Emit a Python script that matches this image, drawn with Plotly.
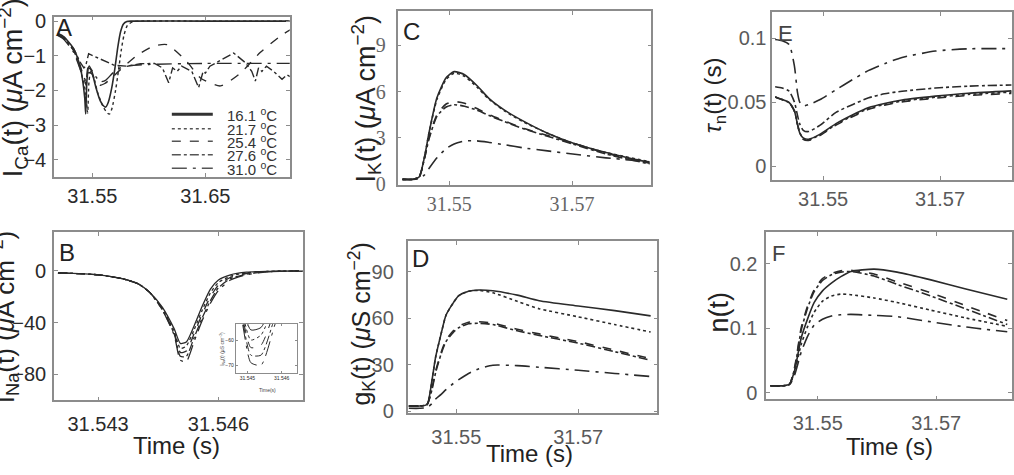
import plotly.graph_objects as go

W, H = 1014, 475

# ---------------- data ----------------
temps = ["16.1", "21.7", "25.4", "27.6", "31.0"]

# Panel A : I_Ca(t)
a_t_161 = [31.5195, 31.5246, 31.5335, 31.5394, 31.5432, 31.5441, 31.5452, 31.5470, 31.5495, 31.5530, 31.5570, 31.5600, 31.5618, 31.5640, 31.5670, 31.5700, 31.5725, 31.5750, 31.5775, 31.5805, 31.5850, 31.6500, 31.7250]
a_v_161 = [-0.35, -0.45, -0.8, -1.35, -2.2, -2.68, -1.7, -1.3, -1.45, -1.9, -2.3, -2.45, -2.48, -2.35, -1.95, -1.35, -0.75, -0.3, -0.08, -0.01, 0, 0, 0]
a_t_217 = [31.5195, 31.5246, 31.5335, 31.5394, 31.5440, 31.5458, 31.5470, 31.5485, 31.5510, 31.5550, 31.5600, 31.5635, 31.5653, 31.5675, 31.5705, 31.5730, 31.5755, 31.5780, 31.5810, 31.5857, 31.5920, 31.6500, 31.7250]
a_v_217 = [-0.4, -0.5, -0.85, -1.4, -2.05, -2.65, -1.75, -1.45, -1.6, -2.1, -2.5, -2.66, -2.68, -2.5, -2.0, -1.45, -0.85, -0.4, -0.12, -0.02, 0, 0, 0]
a_t_254 = [31.5195, 31.5246, 31.5335, 31.5394, 31.5430, 31.5445, 31.5460, 31.5490, 31.5530, 31.5570, 31.5610, 31.5650, 31.5748, 31.5895, 31.6042, 31.6160, 31.6337, 31.6456, 31.6633, 31.6810, 31.6987, 31.7164, 31.7250]
a_v_254 = [-0.4, -0.5, -0.85, -1.3, -1.7, -1.85, -1.5, -1.5, -1.75, -1.85, -1.8, -1.7, -1.4, -0.99, -0.72, -0.68, -1.17, -1.64, -1.87, -1.5, -0.9, -0.43, -0.25]
a_t_276 = [31.5195, 31.5246, 31.5335, 31.5394, 31.5425, 31.5440, 31.5467, 31.5520, 31.5600, 31.5689, 31.5800, 31.5925, 31.6050, 31.6120, 31.6175, 31.6210, 31.6250, 31.6290, 31.6380, 31.6440, 31.6480, 31.6500, 31.6540, 31.6620, 31.6750, 31.6854, 31.6910, 31.6942, 31.6970, 31.7000, 31.7040, 31.7104, 31.7140, 31.7178, 31.7220, 31.7250]
a_v_276 = [-0.38, -0.48, -0.8, -1.2, -1.35, -1.3, -0.94, -1.02, -1.15, -1.27, -1.3, -1.23, -1.22, -1.35, -1.78, -1.35, -1.45, -1.3, -1.45, -1.92, -1.45, -1.5, -1.3, -1.15, -0.92, -1.2, -1.45, -1.73, -1.35, -1.45, -1.3, -1.45, -1.55, -1.68, -1.55, -1.6]
a_t_310 = [31.5195, 31.5246, 31.5335, 31.5394, 31.5430, 31.5445, 31.5460, 31.5490, 31.5530, 31.5570, 31.5620, 31.5680, 31.5750, 31.5850, 31.6000, 31.6500, 31.7250]
a_v_310 = [-0.42, -0.52, -0.9, -1.4, -1.65, -1.75, -1.35, -1.4, -1.6, -1.75, -1.7, -1.5, -1.35, -1.28, -1.25, -1.22, -1.22]

# Panel B : I_Na(t)
b_t = [31.5420, 31.5430, 31.5436, 31.5440, 31.5443, 31.5446, 31.5449, 31.54505, 31.5452, 31.5454, 31.5456, 31.5458, 31.5460, 31.5463, 31.5467, 31.5472, 31.5481]
b_v_161 = [-1.5, -3, -6, -10, -17, -28, -45, -56, -55, -42, -27, -14, -7, -3, -1, -0.3, 0]
b_v_217 = [-1.5, -3, -6, -10, -17, -29, -47, -60, -58, -45, -30, -17, -9, -4, -1.5, -0.4, 0]
b_v_254 = [-1.5, -3, -6, -10, -17, -29, -48, -63, -62, -48, -33, -20, -11, -5, -2, -0.5, 0]
b_v_276 = [-1.5, -3, -6, -10, -17, -30, -49, -66, -66, -51, -36, -23, -13, -6, -2.5, -0.6, 0]
b_v_310 = [-1.5, -3, -6, -10, -17, -30, -50, -69, -70, -54, -38, -25, -15, -7, -3, -0.8, 0]

# Panel C : I_K(t)
c_t = [31.5424, 31.5440, 31.5451, 31.5460, 31.5467, 31.5480, 31.5495, 31.5508, 31.5525, 31.5545, 31.5565, 31.5590, 31.5620, 31.5660, 31.5701, 31.5755, 31.5826]
c_v_161 = [0.3, 0.3, 0.45, 1.8, 3.3, 5.6, 6.9, 7.3, 7.1, 6.4, 5.55, 4.8, 4.1, 3.3, 2.67, 2.05, 1.4]
c_v_217 = [0.3, 0.3, 0.45, 1.8, 3.3, 5.5, 6.8, 7.2, 7.0, 6.3, 5.5, 4.75, 4.05, 3.3, 2.65, 2.05, 1.45]
c_v_254 = [0.3, 0.3, 0.45, 1.7, 3.0, 4.5, 5.2, 5.35, 5.25, 4.9, 4.5, 4.1, 3.63, 3.15, 2.67, 2.0, 1.35]
c_v_276 = [0.3, 0.3, 0.45, 1.7, 2.9, 4.4, 5.0, 5.15, 5.05, 4.8, 4.45, 4.05, 3.6, 3.1, 2.6, 1.95, 1.3]
c_v_310 = [0.3, 0.3, 0.35, 0.6, 1.0, 1.7, 2.3, 2.6, 2.8, 2.8, 2.7, 2.55, 2.35, 2.15, 1.95, 1.7, 1.45]

# Panel D : g_K(t)
d_t = [31.5422, 31.5440, 31.5452, 31.5460, 31.5466, 31.5475, 31.5483, 31.5495, 31.5504, 31.5520, 31.5537, 31.5560, 31.5600, 31.5636, 31.5700, 31.5760, 31.5819]
d_v_161 = [3.5, 3.5, 4.5, 20, 35, 50, 62, 70, 74.6, 77.5, 78.3, 77.8, 75, 71.4, 68, 65, 61.6]
d_v_217 = [3.5, 3.5, 4.5, 20, 35, 50, 62, 70, 74.6, 77.5, 78, 76.5, 71, 66.2, 61, 56, 51.2]
d_v_254 = [3.5, 3.5, 4.5, 15, 26, 38, 46, 52, 55, 57.5, 57.8, 57, 53, 50, 45, 39.5, 34]
d_v_276 = [3.5, 3.5, 4.5, 14, 25, 37, 45, 51, 54, 56.5, 56.8, 56, 52, 49, 44, 38.5, 33]
d_v_310 = [2, 2, 2.5, 5, 8, 11, 14, 18, 20.5, 24.5, 27.5, 29.8, 29.5, 28.5, 26.5, 24.5, 22.5]

# Panel E : tau_n(t)
e_t = [31.5418, 31.5430, 31.5442, 31.5451, 31.5456, 31.5460, 31.5466, 31.5475, 31.5495, 31.5522, 31.5550, 31.5578, 31.5605, 31.5635, 31.5692, 31.5748, 31.5822]
e_v_161 = [0.099, 0.098, 0.095, 0.078, 0.058, 0.050, 0.047, 0.048, 0.052, 0.0597, 0.0675, 0.0748, 0.080, 0.0849, 0.0899, 0.0917, 0.0918]
e_v_217 = [0.062, 0.061, 0.0585, 0.050, 0.040, 0.033, 0.028, 0.027, 0.032, 0.042, 0.048, 0.0534, 0.0565, 0.0585, 0.061, 0.0625, 0.0634]
e_v_254 = [0.054, 0.052, 0.0496, 0.043, 0.033, 0.026, 0.022, 0.021, 0.025, 0.0332, 0.040, 0.0458, 0.049, 0.0517, 0.0547, 0.057, 0.0588]
e_v_276 = [0.054, 0.052, 0.0496, 0.043, 0.033, 0.026, 0.0215, 0.0205, 0.0245, 0.0325, 0.0392, 0.045, 0.0482, 0.0508, 0.0538, 0.056, 0.0578]
e_v_310 = [0.054, 0.052, 0.0496, 0.043, 0.033, 0.026, 0.021, 0.020, 0.024, 0.032, 0.0386, 0.0444, 0.0476, 0.0502, 0.0531, 0.0552, 0.0568]

# Panel F : n(t)
f_t = [31.5420, 31.5440, 31.5452, 31.5461, 31.5472, 31.5483, 31.5494, 31.5508, 31.5523, 31.5539, 31.5556, 31.5595, 31.5634, 31.5691, 31.5750, 31.5820]
f_v_161 = [0.011, 0.011, 0.013, 0.035, 0.085, 0.115, 0.140, 0.158, 0.170, 0.180, 0.188, 0.1916, 0.187, 0.175, 0.161, 0.145]
f_v_217 = [0.011, 0.011, 0.013, 0.033, 0.075, 0.103, 0.125, 0.142, 0.150, 0.153, 0.152, 0.147, 0.140, 0.128, 0.116, 0.103]
f_v_254 = [0.011, 0.011, 0.013, 0.040, 0.1006, 0.135, 0.160, 0.177, 0.185, 0.189, 0.190, 0.184, 0.172, 0.155, 0.135, 0.112]
f_v_276 = [0.011, 0.011, 0.013, 0.038, 0.097, 0.132, 0.157, 0.174, 0.183, 0.187, 0.188, 0.181, 0.168, 0.150, 0.130, 0.106]
f_v_310 = [0.011, 0.011, 0.012, 0.028, 0.063, 0.088, 0.105, 0.114, 0.119, 0.121, 0.1215, 0.120, 0.118, 0.110, 0.102, 0.0946]

# ---------------- styling ----------------
dashes = ["solid", "dot", "dash", "dashdot", "longdashdot"]
CURVE = "#2a2a2a"
FRAME = "#8c8c8c"
SANS = "Liberation Sans, Arial, sans-serif"
SERIF = "Liberation Serif, Times New Roman, serif"

def fx(p):
    return p / W

def fy(p):
    return 1 - p / H

fig = go.Figure()

def add(ax, t, v, i, shape="spline", width=1.4):
    xa = "x" if ax == 1 else f"x{ax}"
    ya = "y" if ax == 1 else f"y{ax}"
    fig.add_trace(go.Scatter(
        x=t, y=v, mode="lines", xaxis=xa, yaxis=ya, showlegend=False,
        name=temps[i] + " °C",
        line=dict(color=CURVE, width=width, dash=dashes[i], shape=shape,
                  smoothing=0.6 if shape == "spline" else None),
    ))

# A
add(1, a_t_161, a_v_161, 0, width=1.6)
add(1, a_t_217, a_v_217, 1)
add(1, a_t_254, a_v_254, 2)
add(1, a_t_276, a_v_276, 3, shape="linear")
add(1, a_t_310, a_v_310, 4)
# B and inset
for ax in (2, 3):
    for i, v in enumerate([b_v_161, b_v_217, b_v_254, b_v_276, b_v_310]):
        add(ax, b_t, v, i, width=1.3 if ax == 2 else 1.0)
# C
for i, v in enumerate([c_v_161, c_v_217, c_v_254, c_v_276, c_v_310]):
    add(4, c_t, v, i, width=1.6)
# D
for i, v in enumerate([d_v_161, d_v_217, d_v_254, d_v_276, d_v_310]):
    add(5, d_t, v, i, width=1.6)
# E
for i, v in enumerate([e_v_161, e_v_217, e_v_254, e_v_276, e_v_310]):
    add(6, e_t, v, [4, 3, 0, 1, 2][i], width=1.6)
# F
for i, v in enumerate([f_v_161, f_v_217, f_v_254, f_v_276, f_v_310]):
    add(7, f_t, v, [0, 1, 2, 3, 4][i], width=1.6)


def axis(dom, rng, tickvals, font_family=SANS, font_color="#333", size=20,
         anchor=None, ticktext=None, standoff=0):
    d = dict(domain=dom, range=rng, tickvals=tickvals, showgrid=False,
             zeroline=False, showline=True, mirror="ticks", linecolor=FRAME,
             linewidth=1.5, ticks="inside", ticklen=4, tickcolor=FRAME,
             tickfont=dict(family=font_family, size=size, color=font_color),
             anchor=anchor, fixedrange=True, ticklabelstandoff=standoff)
    if ticktext is not None:
        d["ticktext"] = ticktext
    return d

# pixel boxes: (left, right, top, bottom)
boxes = {
    1: (54, 290, 11, 177),
    2: (54, 303, 234, 408),
    3: (236, 297, 329, 380),
    4: (398, 652, 5, 185),
    5: (408, 658, 243, 421),
    6: (773, 1013, 6, 180),
    7: (767, 1013, 234, 407),
}
xr = {
    1: [31.516, 31.7246], 2: [31.5419, 31.5481], 3: [31.54483, 31.54572],
    4: [31.5416, 31.5829], 5: [31.542, 31.583], 6: [31.5413, 31.5823],
    7: [31.5413, 31.5828],
}
yr = {
    1: [-4.5, 0.13], 2: [-100, 30], 3: [-73.2, -53.6], 4: [-0.05, 11.25],
    5: [-0.9, 110], 6: [-0.0108, 0.1206], 7: [-0.01, 0.249],
}
xt = {1: [31.55, 31.65], 2: [31.543, 31.546], 3: [31.545, 31.5455],
      4: [31.55, 31.57], 5: [31.55, 31.57], 6: [31.55, 31.57], 7: [31.55, 31.57]}
yt = {1: [0, -1, -2, -3, -4], 2: [0, -40, -80], 3: [-60, -70], 4: [0, 3, 6, 9],
      5: [0, 30, 60, 90], 6: [0, 0.05, 0.1], 7: [0, 0.1, 0.2]}
x_standoff = {1: 0, 2: 5, 3: 0, 4: 0, 5: 5, 6: 0, 7: 5}
y_standoff = {1: 2, 2: 2, 3: 0, 4: 6, 5: 8, 6: 0, 7: 3}

layout = {}
for k, (l, r, t, b) in boxes.items():
    xn = "xaxis" if k == 1 else f"xaxis{k}"
    yn = "yaxis" if k == 1 else f"yaxis{k}"
    xa = "x" if k == 1 else f"x{k}"
    ya = "y" if k == 1 else f"y{k}"
    fam, col, size = SANS, "#2a2a2a", 20
    if k == 4:
        fam, col = SERIF, "#666"
    elif k in (5, 6, 7):
        col = "#5a5a5a"
    elif k == 3:
        size = 5
    xtt = ["31.545", "31.546"] if k == 3 else None
    layout[xn] = axis([fx(l), fx(r)], xr[k], xt[k], fam, col, size, anchor=ya,
                      ticktext=xtt, standoff=x_standoff[k])
    layout[yn] = axis([fy(b), fy(t)], yr[k], yt[k], fam, col, size, anchor=xa,
                      standoff=y_standoff[k])
    if k == 3:
        layout[xn]["ticklen"] = 2
        layout[yn]["ticklen"] = 2
        layout[xn]["linewidth"] = 1
        layout[yn]["linewidth"] = 1

ann = []

def text(px, py, s, size=24, color="#222", angle=0, family=SANS, xanchor="center"):
    ann.append(dict(x=fx(px), y=fy(py), xref="paper", yref="paper", text=s,
                    showarrow=False, textangle=angle, xanchor=xanchor,
                    yanchor="middle", font=dict(family=family, size=size, color=color)))

# panel letters
text(64, 22, "A", 24)
text(67, 255, "B", 24)
text(412, 26, "C", 24)
text(421, 261, "D", 24)
text(786, 28, "E", 22, "#444")
text(779, 256, "F", 22, "#444")

# axis titles
text(13, 84, "I<sub>Ca</sub>(t) (<i>μ</i>A cm<sup>−2</sup>)", 27, angle=-90)
text(5, 322, "I<sub>Na</sub>(t) (<i>μ</i>A cm<sup>−2</sup>)", 26, angle=-90)
text(366, 96, "I<sub>K</sub>(t) (<i>μ</i>A cm<sup>−2</sup>)", 27, angle=-90)
text(362, 329, "g<sub>K</sub>(t) (<i>μ</i>S cm<sup>−2</sup>)", 25, angle=-90)
text(716, 92, "<i>τ</i><sub>n</sub>(t) (s)", 24, angle=-90)
text(720, 317, "n(t)", 27, angle=-90)
text(177, 455, "Time (s)", 24)
text(530, 463, "Time (s)", 24)
text(890, 456, "Time (s)", 24)
# inset titles
text(268, 397, "Time(s)", 5, "#444")
text(222, 355, "I<sub>Na</sub>(t) (μS cm<sup>−2</sup>)", 5, "#444", angle=-90)

# legend of panel A (sample lines + labels)
shapes = []
rows = [112, 127, 140, 154, 168]
for i, ry in enumerate(rows):
    shapes.append(dict(type="line", xref="paper", yref="paper",
                       x0=fx(172), x1=fx(213), y0=fy(ry), y1=fy(ry),
                       line=dict(color="#333" if i == 0 else "#555",
                                 width=3 if i == 0 else 1.5, dash=dashes[i])))
    text(279, ry, temps[i] + " <sup>o</sup>C", 15, "#333", xanchor="right")

fig.update_layout(
    width=W, height=H, margin=dict(l=0, r=0, t=0, b=0),
    paper_bgcolor="white", plot_bgcolor="white",
    annotations=ann, shapes=shapes, showlegend=False,
    **layout,
)

fig.write_html("out.html")
